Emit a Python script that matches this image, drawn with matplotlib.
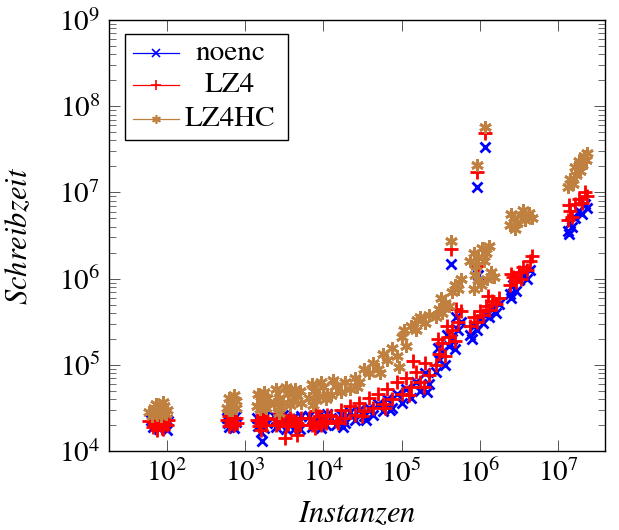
import numpy as np
import matplotlib
matplotlib.use("Agg")
import matplotlib.pyplot as plt
from matplotlib.patches import Rectangle

plt.rcParams['font.family'] = ['STIXGeneral', 'DejaVu Serif']
plt.rcParams['mathtext.fontset'] = 'stix'

# points, stored as (log10 Instanzen, log10 Schreibzeit)
noenc_pts = [
    (1.80, 4.36), (1.86, 4.33), (1.92, 4.38), (1.98, 4.31), (2.02, 4.35), (1.83, 4.28), (1.90, 4.26),
    (1.96, 4.29), (1.88, 4.40), (2.00, 4.24),
    (2.77, 4.38), (2.83, 4.33), (2.89, 4.40), (2.80, 4.28), (2.86, 4.27), (2.78, 4.32), (2.88, 4.34),
    (3.15, 4.38), (3.20, 4.34), (3.26, 4.40), (3.17, 4.29), (3.24, 4.27), (3.28, 4.33), (3.22, 4.12), (3.21, 4.22),
    (3.37, 4.40), (3.43, 4.35), (3.49, 4.42), (3.55, 4.31), (3.61, 4.38), (3.67, 4.33), (3.72, 4.40),
    (3.40, 4.28), (3.52, 4.26), (3.64, 4.27), (3.70, 4.25), (3.46, 4.30), (3.58, 4.37),
    (3.82, 4.40), (3.88, 4.34), (3.94, 4.42), (4.00, 4.36), (4.05, 4.43), (3.85, 4.28), (3.97, 4.27),
    (4.03, 4.30), (3.91, 4.30),
    (4.10, 4.38), (4.16, 4.30), (4.22, 4.42), (4.28, 4.33), (4.34, 4.45), (4.40, 4.36), (4.46, 4.47),
    (4.52, 4.40), (4.58, 4.50), (4.64, 4.42), (4.70, 4.55), (4.76, 4.46), (4.82, 4.60), (4.88, 4.50),
    (4.94, 4.66), (5.00, 4.56), (5.06, 4.72), (5.12, 4.62), (5.18, 4.80), (5.24, 4.70), (5.30, 4.90),
    (5.35, 4.78), (5.33, 4.68), (4.25, 4.28), (4.55, 4.36), (4.85, 4.47),
    (5.44, 4.92), (5.48, 5.05), (5.52, 5.15), (5.56, 5.00), (5.60, 5.22), (5.64, 5.30), (5.68, 5.18),
    (5.72, 5.40), (5.76, 5.50), (5.46, 5.20), (5.58, 5.35), (5.70, 5.55),
    (5.63, 6.17), (5.96, 7.06), (6.07, 7.53), (5.98, 6.04),
    (5.88, 5.35), (5.92, 5.45), (5.96, 5.40), (6.00, 5.52), (6.04, 5.48), (6.08, 5.58), (6.12, 5.55),
    (6.16, 5.65), (6.20, 5.60), (6.24, 5.70), (5.90, 5.30),
    (6.38, 5.82), (6.42, 5.92), (6.46, 5.86), (6.50, 5.98), (6.55, 6.05), (6.60, 6.00), (6.64, 6.10), (6.40, 5.78),
    (7.12, 6.55), (7.15, 6.65), (7.18, 6.60), (7.22, 6.70), (7.26, 6.78), (7.30, 6.75), (7.34, 6.86),
    (7.37, 6.82), (7.14, 6.52),
]

lz4_pts = [
    (1.78, 4.35), (1.84, 4.32), (1.90, 4.37), (1.96, 4.33), (2.02, 4.36), (1.82, 4.28), (1.88, 4.30),
    (1.94, 4.27), (2.00, 4.30), (1.86, 4.39), (1.98, 4.40), (1.87, 4.24), (1.95, 4.25),
    (2.77, 4.36), (2.82, 4.32), (2.88, 4.38), (2.80, 4.29), (2.86, 4.30), (2.79, 4.40), (2.90, 4.33),
    (3.15, 4.36), (3.20, 4.32), (3.25, 4.38), (3.18, 4.29), (3.27, 4.30), (3.22, 4.41), (3.21, 4.24),
    (3.37, 4.37), (3.43, 4.33), (3.49, 4.39), (3.55, 4.31), (3.61, 4.36), (3.67, 4.32), (3.72, 4.38),
    (3.40, 4.30), (3.52, 4.29), (3.64, 4.29), (3.46, 4.42), (3.58, 4.40), (3.70, 4.30), (3.51, 4.15), (3.66, 4.19),
    (3.82, 4.38), (3.88, 4.33), (3.94, 4.40), (4.00, 4.35), (4.05, 4.42), (3.85, 4.30), (3.97, 4.30),
    (4.03, 4.32), (3.91, 4.46), (3.90, 4.27),
    (4.10, 4.40), (4.16, 4.35), (4.22, 4.48), (4.28, 4.38), (4.34, 4.52), (4.40, 4.42), (4.46, 4.56),
    (4.52, 4.46), (4.58, 4.62), (4.64, 4.50), (4.70, 4.66), (4.76, 4.55), (4.82, 4.72), (4.88, 4.60),
    (4.94, 4.80), (5.00, 4.66), (5.06, 4.85), (5.12, 4.74), (5.18, 4.92), (5.24, 4.80), (5.30, 5.02),
    (5.35, 4.88), (4.19, 4.32), (4.49, 4.40), (4.79, 4.50), (5.09, 4.65), (5.28, 4.74), (5.15, 5.04),
    (5.44, 5.00), (5.48, 5.12), (5.52, 5.25), (5.56, 5.10), (5.60, 5.32), (5.64, 5.40), (5.68, 5.28),
    (5.72, 5.50), (5.76, 5.62), (5.46, 5.30), (5.58, 5.45), (5.70, 5.65),
    (5.63, 6.34), (5.96, 7.24), (6.07, 7.69), (5.98, 6.15),
    (5.88, 5.45), (5.92, 5.56), (5.96, 5.50), (6.00, 5.62), (6.04, 5.58), (6.08, 5.68), (6.12, 5.64),
    (6.16, 5.74), (6.20, 5.70), (6.24, 5.78), (6.10, 5.80),
    (6.38, 5.92), (6.42, 6.02), (6.46, 5.96), (6.50, 6.08), (6.55, 6.14), (6.60, 6.10), (6.64, 6.20),
    (6.66, 6.26), (6.40, 6.05), (6.52, 6.00),
    (7.12, 6.68), (7.15, 6.78), (7.18, 6.72), (7.22, 6.86), (7.26, 6.92), (7.30, 6.88), (7.34, 7.00),
    (7.37, 6.96), (7.14, 6.85),
]

lz4hc_pts = [
    (1.78, 4.45), (1.84, 4.50), (1.90, 4.46), (1.96, 4.52), (2.01, 4.48), (1.81, 4.41), (1.87, 4.42),
    (1.93, 4.41), (1.99, 4.43), (1.86, 4.55), (1.95, 4.57),
    (2.77, 4.50), (2.83, 4.55), (2.88, 4.50), (2.80, 4.62), (2.86, 4.65), (2.79, 4.48), (2.84, 4.47), (2.89, 4.58),
    (3.15, 4.52), (3.20, 4.58), (3.26, 4.53), (3.17, 4.66), (3.24, 4.68), (3.28, 4.62), (3.19, 4.49), (3.27, 4.50),
    (3.37, 4.55), (3.43, 4.62), (3.49, 4.56), (3.55, 4.66), (3.61, 4.58), (3.67, 4.64), (3.72, 4.56),
    (3.40, 4.72), (3.52, 4.74), (3.64, 4.72), (3.46, 4.52), (3.58, 4.53), (3.70, 4.70), (3.44, 4.44),
    (3.82, 4.62), (3.88, 4.70), (3.94, 4.64), (4.00, 4.74), (4.05, 4.66), (3.85, 4.78), (3.97, 4.80),
    (3.91, 4.59), (4.03, 4.60), (3.87, 4.53),
    (4.10, 4.65), (4.16, 4.75), (4.22, 4.68), (4.28, 4.80), (4.34, 4.72), (4.40, 4.85), (4.46, 4.80),
    (4.52, 4.95), (4.58, 4.90), (4.64, 5.02), (4.70, 4.95), (4.76, 5.12), (4.82, 5.05), (4.88, 5.20),
    (4.94, 5.10), (5.00, 5.32), (5.06, 5.22), (5.12, 5.45), (5.18, 5.40), (5.24, 5.55), (5.30, 5.48),
    (5.35, 5.58), (4.13, 4.82), (4.43, 4.74), (4.73, 4.90), (4.97, 4.98), (5.03, 5.40), (5.20, 5.52),
    (5.44, 5.55), (5.48, 5.65), (5.52, 5.60), (5.56, 5.72), (5.60, 5.68), (5.64, 5.85), (5.68, 5.92),
    (5.72, 5.88), (5.76, 6.00), (5.50, 5.78),
    (5.63, 6.44), (5.96, 7.32), (6.07, 7.76),
    (5.88, 6.20), (5.93, 6.30), (5.98, 6.25), (6.03, 6.36), (6.08, 6.30), (6.12, 6.38), (5.95, 6.15), (6.05, 6.20),
    (5.92, 5.88), (5.97, 5.98), (6.02, 5.92), (5.94, 6.04),
    (6.09, 6.00), (6.14, 6.08), (6.18, 6.02),
    (6.38, 6.62), (6.43, 6.70), (6.48, 6.64), (6.53, 6.74), (6.58, 6.68), (6.63, 6.76), (6.66, 6.70),
    (6.45, 6.58), (6.55, 6.80), (6.40, 6.75),
    (7.12, 7.06), (7.15, 7.15), (7.19, 7.10), (7.23, 7.20), (7.22, 7.30), (7.26, 7.36), (7.30, 7.32),
    (7.33, 7.42), (7.36, 7.38), (7.37, 7.46), (7.28, 7.25),
]

series = [
    ("noenc", noenc_pts, "blue", "x", 7.5),
    ("LZ4", lz4_pts, "red", "+", 9.5),
    ("LZ4HC", lz4hc_pts, "#bf8040", (6, 2, 0), 9),
]

fig = plt.figure(figsize=(6.19, 5.30), dpi=100)
ax = fig.add_axes([0.1753, 0.1491, 0.8021, 0.8132])

for name, pts, col, mk, ms in series:
    arr = np.power(10.0, np.array(pts))
    ax.plot(arr[:, 0], arr[:, 1], linestyle="none", marker=mk, color=col, ms=ms, mew=2.0)

ax.set_xscale("log")
ax.set_yscale("log")
ax.set_xlim(10 ** 1.257, 10 ** 7.598)
ax.set_ylim(1e4, 1e9)
ax.set_xticks([1e2, 1e3, 1e4, 1e5, 1e6, 1e7])
ax.set_yticks([1e4, 1e5, 1e6, 1e7, 1e8, 1e9])

ax.tick_params(which="both", direction="in", top=True, right=True, labelsize=21, color="#555555")
ax.tick_params(which="major", length=8, width=0.7, pad=6)
ax.tick_params(which="minor", length=5, width=0.6)
for sp in ax.spines.values():
    sp.set_linewidth(1.0)

ax.set_xlabel(r"$Instanzen$", fontsize=22, labelpad=10)
ax.set_ylabel(r"$Schreibzeit$", fontsize=22, labelpad=18)

# legend box, pgfplots style (centered text)
ax.add_patch(Rectangle((0.033, 0.7216), 0.3285, 0.2459, transform=ax.transAxes,
                       facecolor="white", edgecolor="black", lw=1.0, zorder=5))
rows = [0.9234, 0.849, 0.770]
for (name, pts, col, mk, ms), yr in zip(series, rows):
    ax.plot([0.0494, 0.1420], [yr, yr], transform=ax.transAxes, color=col, lw=0.9, zorder=6)
    ax.plot([0.0957], [yr], transform=ax.transAxes, color=col, marker=mk, ms=ms * 0.7, mew=1.2,
            linestyle="none", zorder=6)
    ax.text(0.2447, yr, name, transform=ax.transAxes, ha="center", va="center", fontsize=21, zorder=6)

fig.savefig("out.png", dpi=100)
